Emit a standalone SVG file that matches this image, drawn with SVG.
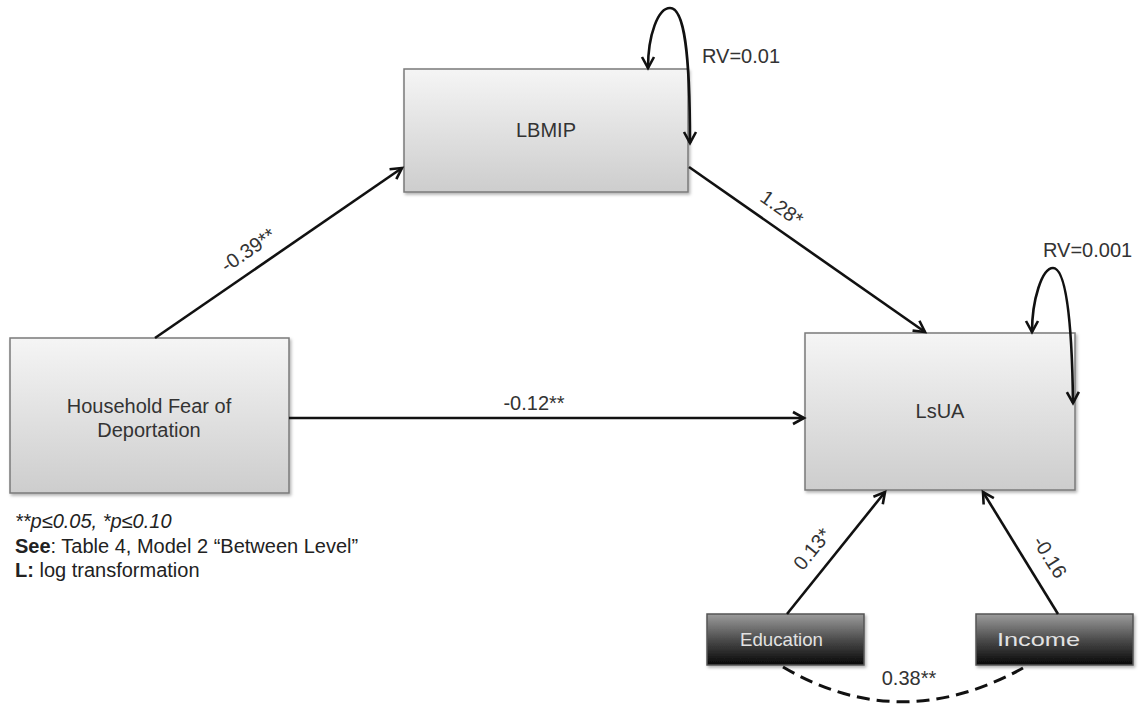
<svg xmlns="http://www.w3.org/2000/svg" width="1144" height="707" viewBox="0 0 1144 707">
<style>
text { font-family: "Liberation Sans", Arial, sans-serif; font-size: 20px; fill: #333; }
.node { fill: url(#lightGrad); stroke: #7a7a7a; stroke-width: 1.5; filter: url(#shadow); }
.dark { fill: url(#darkGrad); stroke: #555; stroke-width: 1.5; filter: url(#shadow); }
.darklabel { fill: #e2e2e2; font-size: 19px; }
.edge { fill: none; stroke: #111; stroke-width: 2.6; }
.arrow { marker-end: url(#arr); }
.dash { stroke-dasharray: 13 7; stroke-width: 3; }
.lbl { fill: #333; font-size: 20px; }
.note { fill: #222; font-size: 20px; }
</style>
<defs>
<linearGradient id="lightGrad" x1="0" y1="0" x2="0" y2="1">
<stop offset="0" stop-color="#f5f5f5"/>
<stop offset="1" stop-color="#cdcdcd"/>
</linearGradient>
<linearGradient id="darkGrad" x1="0" y1="0" x2="0" y2="1">
<stop offset="0" stop-color="#9c9c9c"/>
<stop offset="0.55" stop-color="#454545"/>
<stop offset="1" stop-color="#080808"/>
</linearGradient>
<filter id="shadow" x="-10%" y="-10%" width="125%" height="130%">
<feDropShadow dx="1.5" dy="2" stdDeviation="1.5" flood-color="#000" flood-opacity="0.3"/>
</filter>
<marker id="arr" markerUnits="userSpaceOnUse" markerWidth="16" markerHeight="16" viewBox="0 0 16 16" refX="13" refY="8" orient="auto-start-reverse">
<path d="M2,2 L13,8 L2,14" fill="none" stroke="#111" stroke-width="2.6"/>
</marker>
</defs>
<rect width="1144" height="707" fill="#fff"/>

<g id="node-lbmip">
<rect class="node" x="404" y="69" width="284" height="123"/>
<text x="546" y="137" text-anchor="middle">LBMIP</text>
</g>

<g id="node-lsua">
<rect class="node" x="805" y="333" width="270" height="157"/>
<text x="940" y="418" text-anchor="middle">LsUA</text>
</g>

<g id="node-fear">
<rect class="node" x="10" y="338" width="279" height="155"/>
<text x="149" y="413" text-anchor="middle">Household Fear of</text>
<text x="149" y="437" text-anchor="middle">Deportation</text>
</g>

<g id="node-education">
<rect class="dark" x="707" y="614" width="157" height="51"/>
<text class="darklabel" x="740" y="646" textLength="83" lengthAdjust="spacingAndGlyphs">Education</text>
</g>

<g id="node-income">
<rect class="dark" x="976" y="614" width="157" height="51"/>
<text class="darklabel" x="997" y="646" textLength="83" lengthAdjust="spacingAndGlyphs">Income</text>
</g>

<g id="connectors">
<path class="edge arrow" d="M155,338 L402,168"/>
<path class="edge arrow" d="M689,167 L925,332"/>
<path class="edge arrow" d="M289,418 L804,418"/>
<path class="edge arrow" d="M787,614 L885,492"/>
<path class="edge arrow" d="M1058,614 L983,492"/>
<path class="edge" d="M648,68 C648,35 658,8 670,8 C684,8 690,50 690,143" marker-start="url(#arr)" marker-end="url(#arr)"/>
<path class="edge" d="M1032,332 C1032,300 1042,268 1053,268 C1066,268 1072,320 1073,403" marker-start="url(#arr)" marker-end="url(#arr)"/>
<path class="edge dash" d="M783,667 Q900,736 1023,668"/>
<text class="lbl" transform="translate(248,250) rotate(-34.5)" text-anchor="middle" dy="7">-0.39**</text>
<text class="lbl" transform="translate(782,208) rotate(35)" text-anchor="middle" dy="7">1.28*</text>
<text class="lbl" x="534" y="410" text-anchor="middle">-0.12**</text>
<text class="lbl" transform="translate(812,549) rotate(-51)" text-anchor="middle" dy="7">0.13*</text>
<text class="lbl" transform="translate(1050,557) rotate(58)" text-anchor="middle" dy="7">-0.16</text>
<text class="lbl" x="909" y="685" text-anchor="middle">0.38**</text>
<text class="lbl" x="702" y="63">RV=0.01</text>
<text class="lbl" x="1043" y="257">RV=0.001</text>
</g>

<g id="notes">
<text class="note" x="15" y="528" font-style="italic">**p≤0.05, *p≤0.10</text>
<text class="note" x="15" y="553"><tspan font-weight="bold">See</tspan>: Table 4, Model 2 “Between Level”</text>
<text class="note" x="15" y="577"><tspan font-weight="bold">L:</tspan> log transformation</text>
</g>
</svg>
